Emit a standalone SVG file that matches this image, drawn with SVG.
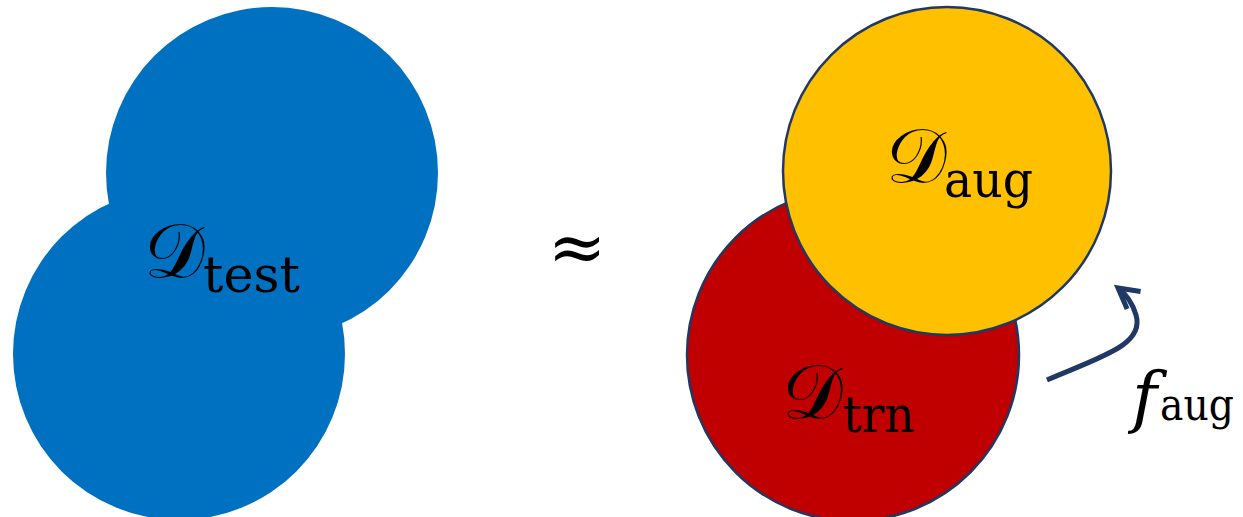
<svg xmlns="http://www.w3.org/2000/svg" width="1243" height="517" viewBox="0 0 1243 517">
<style>
.big{font-family:"DejaVu Serif","Liberation Serif",serif;font-size:76px;fill:#000}
.it{font-family:"DejaVu Serif","Liberation Serif",serif;font-size:68px;font-style:italic;fill:#000}
.sub{font-family:"DejaVu Serif","Liberation Serif",serif;font-size:50px;fill:#000}
.outl{stroke:#1F3864;stroke-width:2.5}
</style>
<defs>
<marker id="ah" markerWidth="35" markerHeight="30" refX="0" refY="0" orient="auto" markerUnits="userSpaceOnUse" viewBox="-30 -15 35 30" overflow="visible">
<path d="M-20,-11 L0,0 L-20,11" fill="none" stroke="#1F3864" stroke-width="5" stroke-linejoin="miter"/>
</marker>
</defs>
<rect width="1243" height="517" fill="#fff"/>
<g id="test">
<circle cx="272" cy="173" r="166" fill="#0070C0"/>
<circle cx="179" cy="354" r="166" fill="#0070C0"/>
<text class="big" x="144" y="277">𝒟</text>
<text class="sub" x="203" y="292" textLength="97" lengthAdjust="spacingAndGlyphs">test</text>
</g>
<g id="approx">
<text class="sub" x="577" y="271" text-anchor="middle" style="font-size:70px">≈</text>
</g>
<g id="trn">
<circle class="outl" cx="853" cy="355" r="166" fill="#C00000"/>
<text class="big" x="782" y="418">𝒟</text>
<text class="sub" x="843" y="432" textLength="72" lengthAdjust="spacingAndGlyphs">trn</text>
</g>
<g id="aug">
<circle class="outl" cx="947" cy="171" r="164" fill="#FFC000"/>
<text class="big" x="886" y="182">𝒟</text>
<text class="sub" x="944" y="197" textLength="89" lengthAdjust="spacingAndGlyphs">aug</text>
</g>
<g id="connectors">
<path d="M1047,380 C1100,357 1145,345 1136,315 Q1131,298 1118,288" fill="none" stroke="#1F3864" stroke-width="5" marker-end="url(#ah)"/>
</g>
<g id="faug">
<text class="it" x="1132" y="420">f</text>
<text class="sub" x="1160" y="420" style="font-size:45px" textLength="74" lengthAdjust="spacingAndGlyphs">aug</text>
</g>
</svg>
